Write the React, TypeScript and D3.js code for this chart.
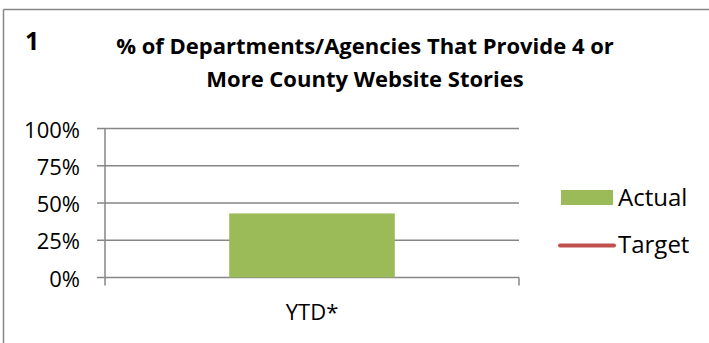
import React from 'react';
import * as d3 from 'd3';

const categories = ["YTD*"];
const actualValues = [0.43];
const targetValues: (number | null)[] = [null];
const yTickValues = [0, 0.25, 0.5, 0.75, 1];
const seriesNames = ["Actual", "Target"];
const titleLines = ["% of Departments/Agencies That Provide 4 or", "More County Website Stories"];

const App: React.FC = () => {
  const width = 709;
  const height = 343;
  const plotLeft = 105;
  const plotRight = 519;
  const plotTop = 128.5;
  const plotBottom = 277.5;
  const gridColor = "#868686";
  const green = "#9BBB59";
  const red = "#C0504D";
  const font = "'Open Sans', sans-serif";

  const xScale = d3.scaleBand<string>().domain(categories).range([plotLeft, plotRight]).padding(0);
  const yScale = d3.scaleLinear().domain([0, 1]).range([plotBottom, plotTop]);
  const fmt = d3.format(".0%");
  const barW = xScale.bandwidth() * 0.4;

  const targetLine = d3.line<number | null>()
    .defined(d => d != null)
    .x((_, i) => (xScale(categories[i]) ?? 0) + xScale.bandwidth() / 2)
    .y(d => yScale(d as number));

  return (
    <div style={{ position: "absolute", left: 0, top: 0 }}>
      <svg width={width} height={height} style={{ display: "block", background: "#fff" }}>
        {/* chart frame, only top and left visible */}
        <line x1={3.5} x2={width} y1={9.5} y2={9.5} stroke={gridColor} strokeWidth={1.5} />
        <line x1={3.5} x2={3.5} y1={9.5} y2={height} stroke={gridColor} strokeWidth={1.5} />

        <text x={25} y={50} fontFamily={font} fontWeight="bold" fontSize={25} fill="#000">1</text>
        {titleLines.map((t, i) => (
          <text key={i} x={365} y={54 + i * 33} textAnchor="middle" fontFamily={font} fontWeight="bold" fontSize={22} fill="#000">{t}</text>
        ))}

        {/* gridlines + y ticks */}
        {yTickValues.map(v => (
          <g key={v}>
            <line x1={plotLeft - 8} x2={plotRight} y1={yScale(v)} y2={yScale(v)} stroke={gridColor} strokeWidth={1.5} />
            <text x={80} y={yScale(v) + 9} textAnchor="end" fontFamily={font} fontSize={22} fill="#000">{fmt(v)}</text>
          </g>
        ))}
        <line x1={plotLeft} x2={plotLeft} y1={plotTop} y2={plotBottom + 8} stroke={gridColor} strokeWidth={1.5} />
        <line x1={plotRight} x2={plotRight} y1={plotBottom} y2={plotBottom + 8} stroke={gridColor} strokeWidth={1.5} />

        {categories.map((c, i) => {
          const cx = (xScale(c) ?? 0) + xScale.bandwidth() / 2;
          return (
            <g key={c}>
              <rect x={cx - barW / 2} y={yScale(actualValues[i])} width={barW} height={plotBottom - yScale(actualValues[i])} fill={green} />
              <text x={cx} y={320} textAnchor="middle" fontFamily={font} fontSize={22} fill="#000">{c}</text>
            </g>
          );
        })}
        <path d={targetLine(targetValues) ?? ""} fill="none" stroke={red} strokeWidth={4} />

        {/* legend */}
        <rect x={561} y={190} width={52} height={15} fill={green} />
        <text x={618} y={206} fontFamily={font} fontSize={24} fill="#000">{seriesNames[0]}</text>
        <line x1={560} x2={614} y1={245.5} y2={245.5} stroke={red} strokeWidth={4} strokeLinecap="round" />
        <text x={618} y={253} fontFamily={font} fontSize={24} fill="#000">{seriesNames[1]}</text>
      </svg>
    </div>
  );
};

export default App;
